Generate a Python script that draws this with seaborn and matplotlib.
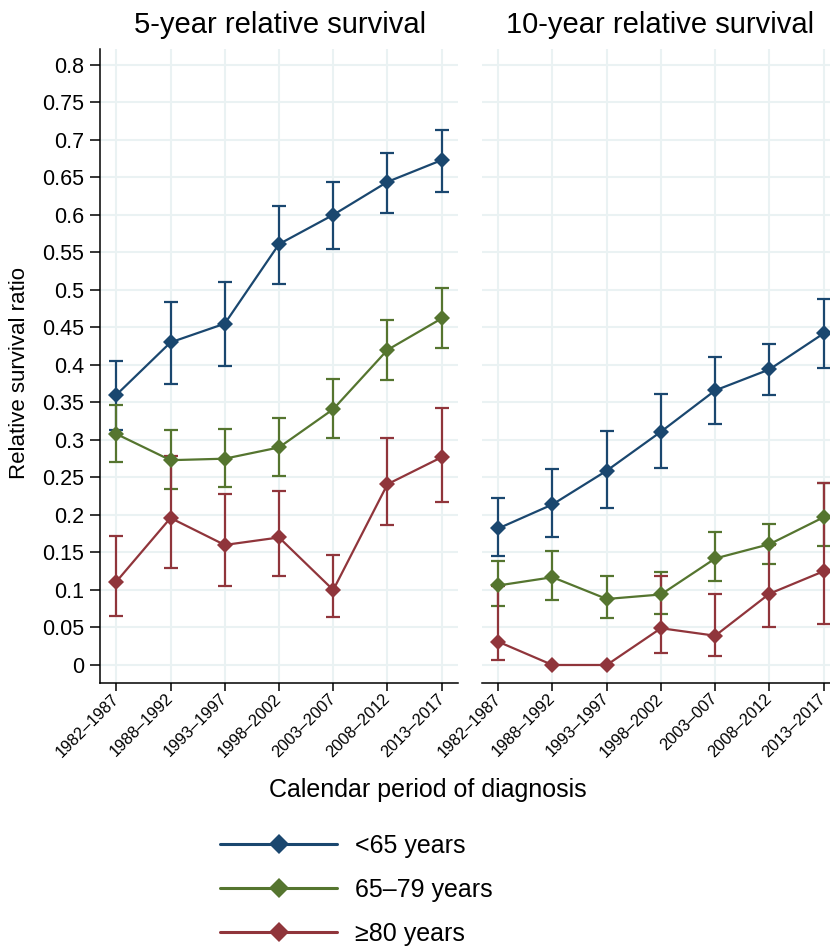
import matplotlib
matplotlib.use("Agg")
import matplotlib.pyplot as plt
from matplotlib.lines import Line2D
import numpy as np
import pandas as pd
import seaborn as sns

# Data
periods = ["1982\u20131987", "1988\u20131992", "1993\u20131997", "1998\u20132002",
           "2003\u20132007", "2008\u20132012", "2013\u20132017"]
periods_10 = ["1982\u20131987", "1988\u20131992", "1993\u20131997", "1998\u20132002",
              "2003\u2013007", "2008\u20132012", "2013\u20132017"]
groups = ["<65 years", "65\u201379 years", "\u226580 years"]
colors = ["#1a476f", "#55752f", "#90353b"]

# 5-year relative survival
est5_u65 = [0.360, 0.430, 0.455, 0.561, 0.600, 0.644, 0.673]
lo5_u65 = [0.313, 0.375, 0.398, 0.508, 0.554, 0.602, 0.631]
hi5_u65 = [0.405, 0.484, 0.511, 0.612, 0.644, 0.683, 0.713]

est5_6579 = [0.308, 0.273, 0.275, 0.290, 0.341, 0.420, 0.462]
lo5_6579 = [0.270, 0.235, 0.237, 0.252, 0.302, 0.380, 0.422]
hi5_6579 = [0.347, 0.313, 0.314, 0.329, 0.381, 0.460, 0.502]

est5_80 = [0.111, 0.196, 0.160, 0.170, 0.100, 0.241, 0.277]
lo5_80 = [0.065, 0.129, 0.105, 0.119, 0.064, 0.186, 0.217]
hi5_80 = [0.172, 0.278, 0.228, 0.232, 0.146, 0.302, 0.343]

# 10-year relative survival
est10_u65 = [0.182, 0.214, 0.259, 0.311, 0.366, 0.394, 0.442]
lo10_u65 = [0.145, 0.170, 0.209, 0.262, 0.321, 0.360, 0.396]
hi10_u65 = [0.222, 0.261, 0.312, 0.361, 0.411, 0.428, 0.488]

est10_6579 = [0.106, 0.117, 0.088, 0.094, 0.142, 0.161, 0.197]
lo10_6579 = [0.078, 0.087, 0.062, 0.068, 0.112, 0.134, 0.159]
hi10_6579 = [0.138, 0.152, 0.119, 0.124, 0.177, 0.188, 0.242]

est10_80 = [0.031, 0.0, 0.0, 0.049, 0.039, 0.095, 0.125]
lo10_80 = [0.006, np.nan, np.nan, 0.016, 0.012, 0.051, 0.055]
hi10_80 = [0.105, np.nan, np.nan, 0.119, 0.094, 0.160, 0.243]

y_ticks = [0, 0.05, 0.1, 0.15, 0.2, 0.25, 0.3, 0.35, 0.4, 0.45, 0.5, 0.55,
           0.6, 0.65, 0.7, 0.75, 0.8]
y_tick_labels = ["0", "0.05", "0.1", "0.15", "0.2", "0.25", "0.3", "0.35", "0.4",
                 "0.45", "0.5", "0.55", "0.6", "0.65", "0.7", "0.75", "0.8"]

panels = [
    ("5-year relative survival", periods,
     [(est5_u65, lo5_u65, hi5_u65), (est5_6579, lo5_6579, hi5_6579), (est5_80, lo5_80, hi5_80)]),
    ("10-year relative survival", periods_10,
     [(est10_u65, lo10_u65, hi10_u65), (est10_6579, lo10_6579, hi10_6579), (est10_80, lo10_80, hi10_80)]),
]

sns.set_theme(style="white")
plt.rcParams["font.family"] = ["Liberation Sans", "DejaVu Sans"]
plt.rcParams["text.color"] = "black"
plt.rcParams["xtick.color"] = "black"
plt.rcParams["ytick.color"] = "black"

grid_color = "#eaf2f3"

fig = plt.figure(figsize=(8.3, 9.49), dpi=100)
ax_left = fig.add_axes([0.1205, 0.2803, 0.4313, 0.668])
ax_right = fig.add_axes([0.5807, 0.2803, 0.4313, 0.668])
axes = [ax_left, ax_right]

title_x = [0.337, 0.795]

for i, (ax, (title, labels, series)) in enumerate(zip(axes, panels)):
    for g, c, (est, lo, hi) in zip(groups, colors, series):
        df = pd.DataFrame({"x": np.arange(len(labels)), "est": est, "lo": lo, "hi": hi})
        ax.errorbar(df["x"], df["est"], yerr=[df["est"] - df["lo"], df["hi"] - df["est"]],
                    fmt="none", ecolor=c, elinewidth=1.6, capsize=4.7, capthick=1.6, zorder=3)
        sns.lineplot(data=df, x="x", y="est", color=c, marker="D", markersize=8,
                     markeredgewidth=0, linewidth=1.6, errorbar=None, ax=ax, zorder=4)

    ax.set_xlim(-0.3, 6.3)
    ax.set_ylim(-0.024, 0.821)
    ax.set_xticks(range(len(labels)))
    ax.set_xticklabels(labels, rotation=45, ha="right", va="center",
                       rotation_mode="anchor", fontsize=11.8)
    ax.set_yticks(y_ticks)
    ax.set_xlabel("")
    ax.set_ylabel("")
    ax.grid(True, color=grid_color, linewidth=1.5)
    ax.set_axisbelow(True)
    for s in ["top", "right"]:
        ax.spines[s].set_visible(False)
    ax.spines["bottom"].set_color("black")
    ax.spines["bottom"].set_linewidth(1.1)
    ax.tick_params(axis="x", bottom=True, length=5.5, width=1.1, color="black", pad=4)
    if i == 0:
        ax.set_yticklabels(y_tick_labels, fontsize=15.5)
        ax.spines["left"].set_color("black")
        ax.spines["left"].set_linewidth(1.1)
        ax.tick_params(axis="y", left=True, length=7.5, width=1.1, color="black", pad=4)
    else:
        ax.set_yticklabels([])
        ax.spines["left"].set_visible(False)
        ax.tick_params(axis="y", left=False)
    fig.text(title_x[i], 0.9737, title, ha="center", va="center", fontsize=21)

fig.text(0.024, 0.607, "Relative survival ratio", rotation=90, ha="center",
         va="center", fontsize=16)
fig.text(0.516, 0.1675, "Calendar period of diagnosis", ha="center", va="center",
         fontsize=18)

handles = [Line2D([0], [0], color=c, linewidth=2.2, marker="D", markersize=10,
                  markeredgewidth=0) for c in colors]
fig.legend(handles, groups, loc="center left", bbox_to_anchor=(0.265, 0.0625),
           frameon=False, fontsize=18, handlelength=4.7, handletextpad=0.7,
           labelspacing=0.8, borderpad=0, borderaxespad=0)

plt.savefig("out.png", dpi=100)
